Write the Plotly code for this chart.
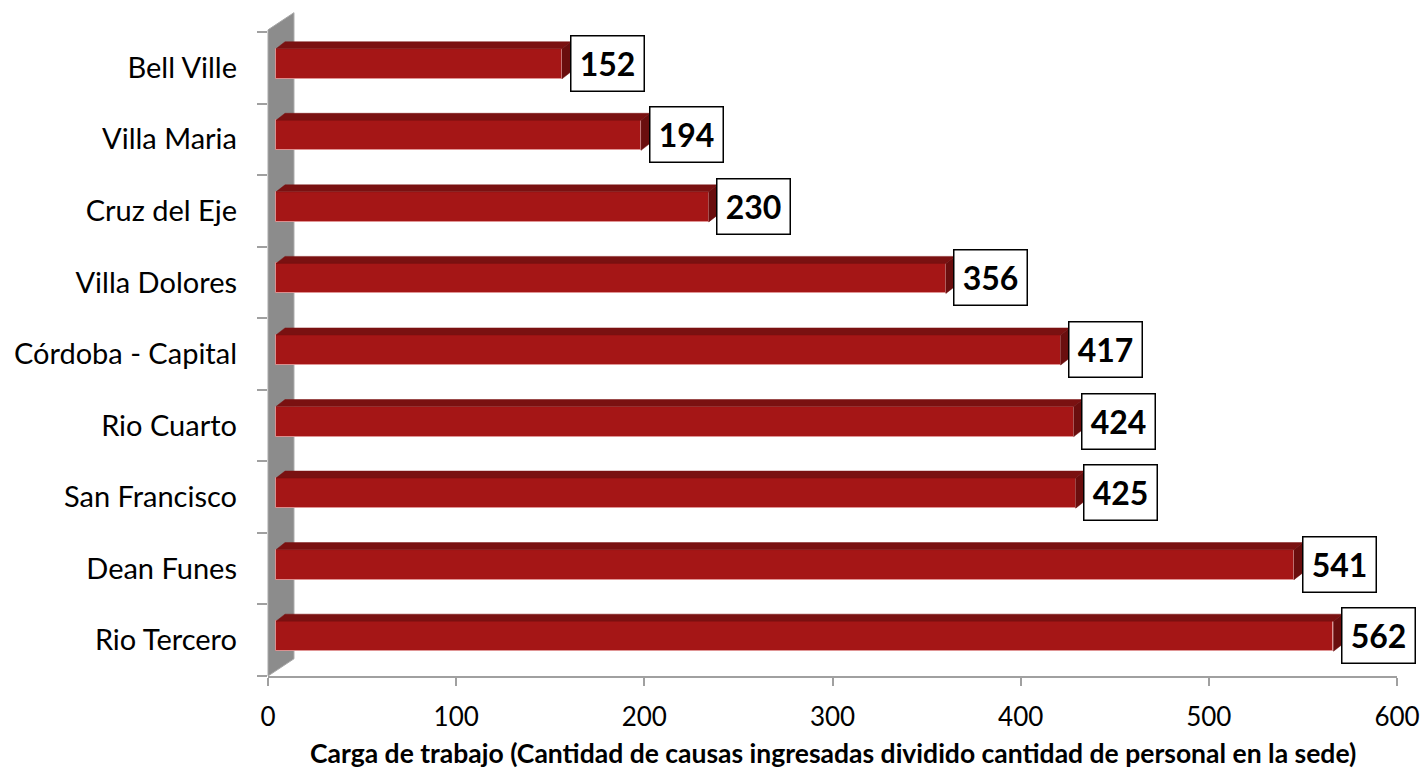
import plotly.graph_objects as go

# ---- data (bottom to top) ----
sedes = ["Rio Tercero", "Dean Funes", "San Francisco", "Rio Cuarto", "Córdoba - Capital",
         "Villa Dolores", "Cruz del Eje", "Villa Maria", "Bell Ville"]
carga = [562, 541, 425, 424, 417, 356, 230, 194, 152]
x_ticks = [0, 100, 200, 300, 400, 500, 600]
x_title = "Carga de trabajo (Cantidad de causas ingresadas dividido cantidad de personal en la sede)"

# ---- 3D look parameters (in axis units) ----
base = 4.25       # front-face offset from wall
dx = 4.8          # depth offset in x
dy = 0.098        # depth offset in y
bw = 0.42         # bar thickness
yoff = 0.056      # bar center shift
FRONT = "#A51616"
TOP = "#7A1111"
SIDE = "#6A0E0E"
XMAX = 600
NROWS = len(sedes)

pos = list(range(NROWS))

fig = go.Figure()

# wall (side wall of 3D chart), paper coords so it is not clipped
wall_w = 13.8 / XMAX
def py(v):
    return (v + 0.5) / NROWS
fig.add_shape(type="path",
              path=(f"M 0,{py(-0.5)} L 0,{py(8.53)} L {wall_w},{py(8.77)} "
                    f"L {wall_w},{py(-0.26)} Z"),
              xref="paper", yref="paper", fillcolor="#8C8C8C",
              line=dict(color="#A8A8A8", width=1), layer="below")

# front faces
fig.add_trace(go.Bar(
    y=[p + yoff for p in pos], x=carga, base=base, orientation="h", width=bw,
    marker=dict(color=FRONT, line=dict(color="rgba(225,150,150,0.9)", width=1)),
    hoverinfo="skip", showlegend=False))

# top faces and side faces
tx, ty, sx, sy = [], [], [], []
for p, v in zip(pos, carga):
    yt = p + yoff + bw / 2
    yb = p + yoff - bw / 2
    tx += [base, base + v, base + v + dx, base + dx, base, None]
    ty += [yt, yt, yt + dy, yt + dy, yt, None]
    sx += [base + v, base + v, base + v + dx, base + v + dx, base + v, None]
    sy += [yb, yt, yt + dy, yb + dy, yb, None]
fig.add_trace(go.Scatter(x=tx, y=ty, mode="lines", fill="toself", fillcolor=TOP,
                         line=dict(color=TOP, width=0.5), hoverinfo="skip", showlegend=False))
fig.add_trace(go.Scatter(x=sx, y=sy, mode="lines", fill="toself", fillcolor=SIDE,
                         line=dict(color=SIDE, width=0.5), hoverinfo="skip", showlegend=False))

# value labels in boxes
for p, v in zip(pos, carga):
    fig.add_annotation(x=v + 8.3, y=p + 0.063, xref="x", yref="y", text=f"<b>{v}</b>",
                       showarrow=False, xanchor="left", yanchor="middle",
                       font=dict(family="Lato", size=32, color="black"),
                       bgcolor="white", bordercolor="black", borderwidth=1.5,
                       borderpad=1, width=70, height=52)

# x-axis title
fig.add_annotation(x=0.5, y=-0.120, xref="paper", yref="paper", text=f"<b>{x_title}</b>",
                   showarrow=False, xanchor="center", yanchor="middle",
                   font=dict(size=26.5, family="Lato", color="black"))

fig.update_layout(
    width=1422, height=771,
    margin=dict(l=268, r=25, t=32, b=95, autoexpand=False),
    plot_bgcolor="white", paper_bgcolor="white",
    font=dict(family="Lato", color="black"),
    bargap=0,
    xaxis=dict(range=[0, XMAX], tickvals=x_ticks, showgrid=False, zeroline=False,
               automargin=False,
               showline=True, linecolor="#A0A0A0", linewidth=2,
               ticks="outside", ticklen=8, tickcolor="#A0A0A0", tickwidth=2,
               tickfont=dict(size=26, family="Lato", color="black"),
               ticklabelstandoff=9),
    yaxis=dict(range=[-0.5, NROWS - 0.5], tickvals=pos, ticktext=sedes, showgrid=False,
               zeroline=False, automargin=False,
               showline=False, ticks="", tickfont=dict(size=29, family="Lato", color="black"),
               ticklabelstandoff=30,
               minor=dict(tickvals=[p - 0.5 for p in pos] + [NROWS - 0.5], ticks="outside",
                          ticklen=10, tickcolor="#A0A0A0", tickwidth=1.5)),
)

fig.write_html("out.html", config={"displayModeBar": False},
               post_script="document.body.style.margin='0px';document.body.style.overflow='hidden';")
